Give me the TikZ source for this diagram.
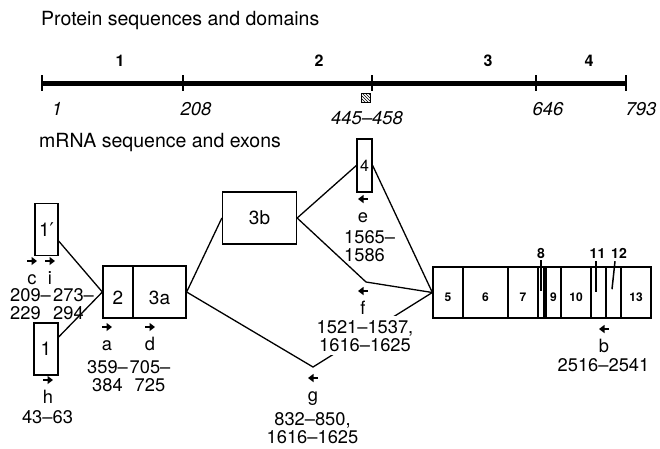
\documentclass[tikz,border=0pt]{standalone}
\usepackage{fontspec}
\setmainfont{TeX Gyre Heros}
\newfontfamily\primefont{DejaVu Sans}
\usepackage{tikz}
\usetikzlibrary{arrows.meta,patterns}
\newcommand{\fsz}[1]{\fontsize{#1}{18pt}\selectfont}
\tikzset{
  exon/.style={draw,line width=1.3pt,inner sep=0pt,font=\fsz{19}},
  lowlab/.style={text height=#1,text depth=0pt},
  subex/.style={exon,minimum height=51pt,font=\bfseries\fsz{12},lowlab=18.5pt},
  lnk/.style={line width=1.3pt},
  fwd/.style={line width=2.5pt,-{Triangle[length=5.5pt,width=8pt]}},
  ltr/.style={anchor=base,inner sep=0pt,font=\fsz{18.3}},
  posnum/.style={anchor=base,inner sep=0pt,font=\fsz{18.3}},
  ttl/.style={anchor=base west,inner sep=0pt,font=\fsz{19.5}},
  dom/.style={anchor=base,inner sep=0pt,font=\bfseries\fsz{16}},
  res/.style={anchor=base,inner sep=0pt,font=\itshape\fsz{18.5}},
  exmark/.style={anchor=base,inner sep=0pt,font=\bfseries\fsz{14}},
}
\begin{document}
\begin{tikzpicture}[x=1pt,y=-1pt]
  \useasboundingbox (0,0) rectangle (660,448);

  % protein sequence and domains
  \node[ttl] (ptitle) at (41,25) {Protein sequences and domains};
  \draw[line width=5pt] (42,83) -- (626,83);
  \foreach \x in {42,183,372,536,626}
    \draw[line width=1.5pt] (\x,75) -- (\x,91);
  \node[dom] (d1) at (120,66) {1};
  \node[dom] (d2) at (319,66) {2};
  \node[dom] (d3) at (488,66) {3};
  \node[dom] (d4) at (589,66) {4};
  \node[res] (r1) at (57,115) {1};
  \node[res] (r208) at (196,115) {208};
  \node[res] (r445) at (367,124) {445--458};
  \node[res] (r646) at (548,115) {646};
  \node[res] (r793) at (641,115) {793};
  \node[draw,line width=1pt,minimum size=9pt,inner sep=0pt,pattern=north west lines] (site) at (366,98) {};

  % mRNA sequence and exons
  \node[ttl] (mtitle) at (39,147) {mRNA sequence and exons};
  \node[exon,minimum width=23pt,minimum height=52pt] (ex1p) at (46.5,229.5) {1{\primefont′}};
  \node[exon,minimum width=24pt,minimum height=52pt] (ex1) at (46,349) {1};
  \node[exon,minimum width=30pt,minimum height=52pt,lowlab=25pt] (ex2) at (118,292) {2};
  \node[exon,minimum width=53pt,minimum height=52pt,lowlab=25pt] (ex3a) at (159.5,292) {3a};
  \node[exon,minimum width=74pt,minimum height=52pt] (ex3b) at (259.5,218) {3b};
  \node[exon,minimum width=15pt,minimum height=53pt,font=\fsz{16}] (ex4) at (364.5,165.5) {4};
  \node[subex,minimum width=30pt] (ex5) at (448,292.5) {5};
  \node[subex,minimum width=45pt] (ex6) at (485.5,292.5) {6};
  \node[subex,minimum width=30pt] (ex7) at (523,292.5) {7};
  \node[subex,minimum width=6pt] (ex8) at (541,292.5) {};
  \node[subex,minimum width=15pt] (ex9) at (553.5,292.5) {9};
  \node[subex,minimum width=30pt] (ex10) at (576,292.5) {10};
  \node[subex,minimum width=15pt] (ex11) at (598.5,292.5) {};
  \node[subex,minimum width=15pt] (ex12) at (613.5,292.5) {};
  \node[subex,minimum width=30pt] (ex13) at (636,292.5) {13};
  \draw[line width=1.3pt] (ex5.north west) rectangle (ex13.south east);
  \node[exmark] (m8) at (541,258) {8};
  \node[exmark] (m11) at (597.5,258) {11};
  \node[exmark] (m12) at (619,258) {12};
  \draw[line width=1.5pt] (m8.south) ++(0,2) -- ++(0,31);
  \draw[line width=1.5pt] ([xshift=-1.5pt]m11.south) ++(0,3) -- ++(0,31);
  \draw[line width=1.5pt] ([xshift=-4pt]m12.south) ++(0,3) -- ++(-3,28);

  % splice connections
  \coordinate (gv) at (313,367);
  \coordinate (fv) at (366,282);
  \draw[lnk] ([yshift=-11.5pt]ex1p.east) -- (ex2.west);
  \draw[lnk] ([yshift=12pt]ex1.east) -- (ex2.west);
  \draw[lnk] (ex3a.east) -- (ex3b.west);
  \draw[lnk] (ex3a.east) -- (gv) -- (ex5.west);
  \draw[lnk] (ex3b.east) -- (ex4.west);
  \draw[lnk] (ex3b.east) -- (fv) -- (ex5.west);
  \draw[lnk] (ex4.east) -- (ex5.west);

  % primers (multi-line blocks sit on their last baseline)
  \node[ltr] (pc) at (32,284) {c};
  \node[ltr] (pi) at (50,284) {i};
  \node[ltr] (pa) at (107,350) {a};
  \node[ltr] (pd) at (150,350) {d};
  \node[ltr] (ph) at (48,403) {h};
  \node[ltr] (pe) at (363,222) {e};
  \node[ltr] (pf) at (363,314) {f};
  \node[ltr] (pg) at (313,401) {g};
  \node[ltr] (pb) at (604,352) {b};
  \foreach \p in {pc,pi,pa,pd,ph}
    \draw[fwd] ([shift={(-5pt,23pt)}]\p.base) -- ++(10pt,0pt);
  \foreach \p in {pe,pf,pg,pb}
    \draw[fwd] ([shift={(5pt,23pt)}]\p.base) -- ++(-10pt,0pt);
  \node[posnum,anchor=base west,align=left] (nc) at (10,319) {209--\\229};
  \node[posnum,anchor=base west,align=left] (ni) at (53,319) {273--\\294};
  \node[posnum,align=center] (na) at (107.5,391) {359--\\384};
  \node[posnum,align=center] (nd) at (150,391) {705--\\725};
  \node[posnum] (nh) at (47.5,423) {43--63};
  \node[posnum,anchor=base west,align=left] (ne) at (344,261) {1565--\\1586};
  \node[posnum,align=center,fill=white,inner sep=4pt] (nf) at (365,351) {1521--1537,\\1616--1625};
  \node[posnum,align=center] (ng) at (312.5,443) {832--850,\\1616--1625};
  \node[posnum] (nb) at (603.5,371) {2516--2541};
\end{tikzpicture}
\end{document}
